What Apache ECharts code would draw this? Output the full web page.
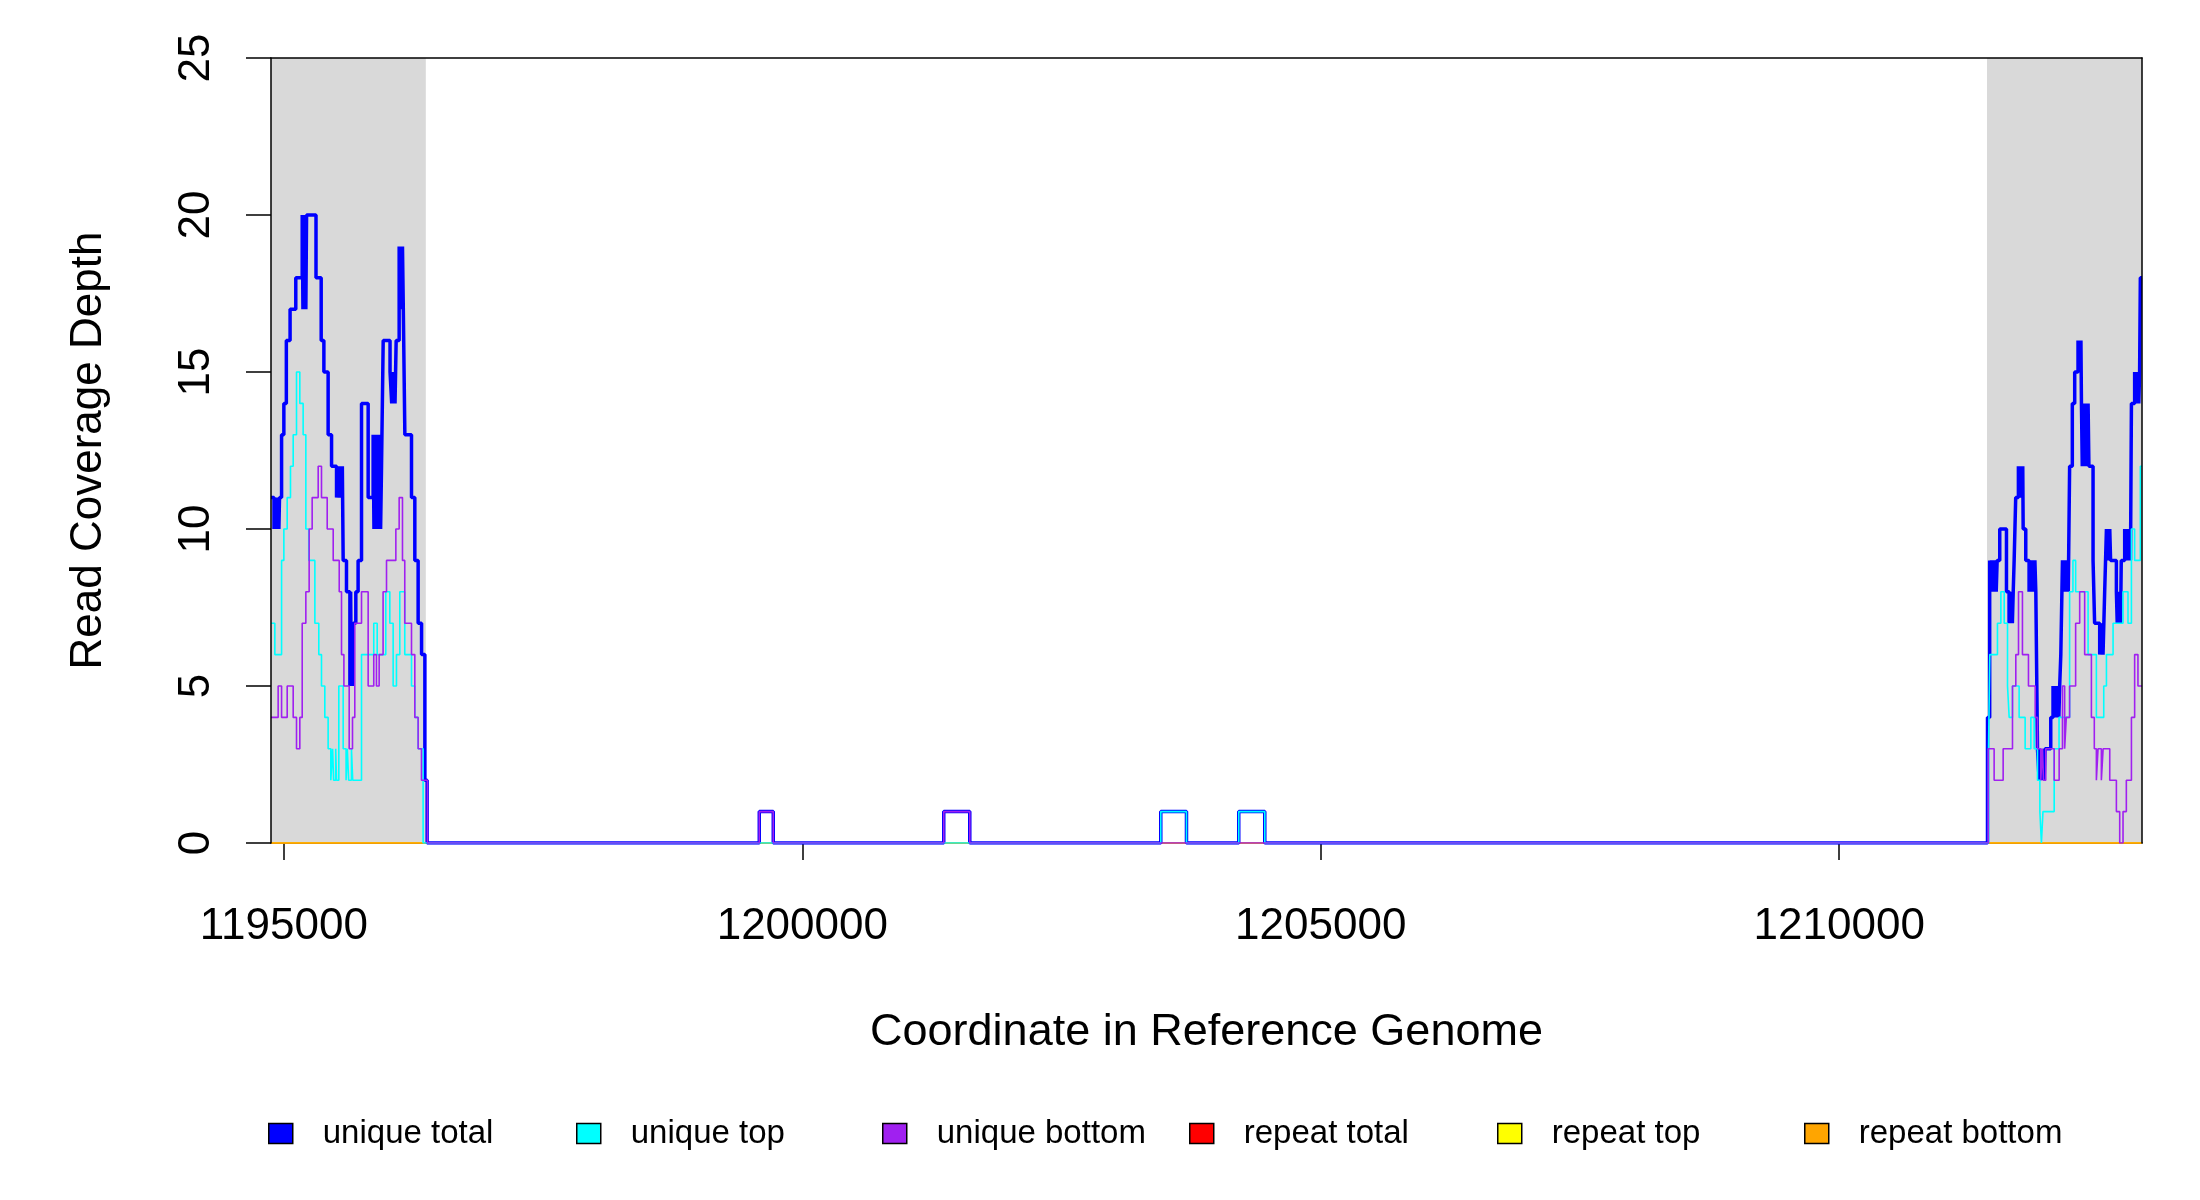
<!DOCTYPE html>
<html>
<head>
<meta charset="utf-8">
<title>Read Coverage Depth</title>
<script src="https://cdn.jsdelivr.net/npm/echarts@6/dist/echarts.min.js"></script>
<style>
  html, body { margin: 0; padding: 0; background: #fff; }
  #main { width: 2200px; height: 1200px; }
</style>
</head>
<body>
<div id="main"></div>
<script>
// axis range and ticks
var xRange = [1194876, 1212920];
var xTicks = [1195000, 1200000, 1205000, 1210000];
var yTicks = [0, 5, 10, 15, 20, 25];

// flanking regions drawn in grey
var shadedRegions = [[1194876, 1196369], [1211425, 1212920]];

var seriesNames = ['unique total', 'unique top', 'unique bottom', 'repeat total', 'repeat top', 'repeat bottom'];
var seriesColors = ['#0000FF', '#00FFFF', '#A020F0', '#FF0000', '#FFFF00', '#FFA500'];

// coverage steps: [start position, depth], depth holds until the next position
var uniqueTotal = [
  [1194876, 11], [1194905, 10], [1194912, 11], [1194920, 10], [1194928, 11], [1194936, 10], [1194944, 11], [1194952, 10], [1194958, 11],
  [1194978, 13], [1195000, 14], [1195024, 16], [1195060, 17], [1195115, 18],
  [1195177, 20], [1195184, 17], [1195191, 20], [1195198, 17], [1195205, 20], [1195212, 17], [1195219, 20],
  [1195310, 18], [1195360, 16], [1195386, 15], [1195427, 13], [1195460, 12],
  [1195508, 11], [1195516, 12], [1195524, 11], [1195532, 12], [1195540, 11], [1195548, 12], [1195556, 11], [1195564, 12],
  [1195572, 9], [1195604, 8], [1195637, 5], [1195644, 8], [1195651, 5], [1195658, 7], [1195664, 5], [1195669, 7],
  [1195694, 8], [1195716, 9], [1195749, 14], [1195813, 11],
  [1195861, 13], [1195869, 10], [1195877, 13], [1195885, 10], [1195893, 13], [1195901, 10], [1195909, 13], [1195917, 10], [1195925, 13], [1195933, 10],
  [1195942, 12], [1195958, 16], [1196024, 15], [1196040, 14], [1196048, 15], [1196056, 14], [1196064, 15], [1196072, 14],
  [1196083, 16], [1196112, 19], [1196120, 17], [1196128, 19], [1196136, 17], [1196144, 19], [1196152, 17],
  [1196167, 13], [1196231, 11], [1196263, 9], [1196295, 7], [1196328, 6], [1196360, 2], [1196382, 0],
  [1199585, 1], [1199720, 0], [1201364, 1], [1201615, 0], [1203457, 1], [1203705, 0], [1204209, 1], [1204460, 0],
  [1211430, 4], [1211451, 9], [1211460, 8], [1211469, 9], [1211478, 8], [1211487, 9], [1211496, 8], [1211505, 9], [1211514, 8], [1211523, 9],
  [1211548, 10], [1211613, 8], [1211638, 7], [1211646, 8], [1211654, 7], [1211662, 8], [1211670, 7], [1211678, 8],
  [1211687, 9], [1211702, 11], [1211728, 12], [1211735, 11], [1211742, 12], [1211749, 11], [1211756, 12], [1211763, 11], [1211770, 12],
  [1211774, 10], [1211799, 9], [1211831, 8], [1211839, 9], [1211847, 8], [1211855, 9], [1211863, 8], [1211871, 9], [1211879, 8], [1211887, 9], [1211896, 8],
  [1211912, 3], [1211928, 2], [1211936, 3], [1211944, 2], [1211952, 3], [1211960, 2], [1211968, 3], [1211976, 2], [1211985, 3],
  [1212040, 4], [1212062, 5], [1212070, 4], [1212078, 5], [1212086, 4], [1212094, 5], [1212102, 4], [1212110, 5], [1212118, 4], [1212126, 5],
  [1212137, 6], [1212153, 9], [1212161, 8], [1212169, 9], [1212177, 8], [1212185, 9], [1212193, 8], [1212201, 9], [1212209, 8],
  [1212222, 12], [1212248, 14], [1212271, 15], [1212303, 16], [1212310, 15], [1212317, 16], [1212324, 15], [1212331, 16],
  [1212336, 14], [1212344, 12], [1212352, 14], [1212360, 12], [1212368, 14], [1212376, 12], [1212384, 14], [1212392, 12], [1212400, 14], [1212408, 12],
  [1212448, 9], [1212463, 7], [1212512, 6], [1212520, 7], [1212528, 6], [1212536, 7], [1212544, 6], [1212552, 7], [1212560, 8],
  [1212577, 10], [1212585, 9], [1212593, 10], [1212601, 9], [1212609, 10], [1212617, 9],
  [1212673, 8], [1212681, 7], [1212689, 8], [1212697, 7], [1212705, 8], [1212713, 7], [1212720, 9],
  [1212753, 10], [1212761, 9], [1212769, 10], [1212777, 9], [1212785, 10], [1212793, 9], [1212801, 10], [1212809, 9],
  [1212818, 14], [1212849, 15], [1212857, 14], [1212865, 15], [1212873, 14], [1212881, 15], [1212889, 14], [1212897, 15],
  [1212904, 18], [1212920, 18]
];

var uniqueTop = [
  [1194876, 7], [1194913, 6], [1194978, 9], [1195000, 10], [1195032, 11], [1195064, 12], [1195090, 13], [1195122, 15],
  [1195154, 14], [1195186, 13], [1195212, 10], [1195240, 9], [1195299, 7], [1195337, 6], [1195363, 5], [1195395, 4],
  [1195427, 3], [1195453, 2], [1195470, 3], [1195480, 2], [1195500, 3], [1195508, 2], [1195530, 5], [1195572, 3],
  [1195600, 2], [1195612, 3], [1195625, 2], [1195652, 3], [1195664, 2], [1195749, 6], [1195867, 7], [1195900, 6],
  [1195983, 8], [1196022, 7], [1196054, 5], [1196086, 6], [1196118, 8], [1196166, 6], [1196231, 5], [1196263, 4],
  [1196295, 3], [1196343, 0],
  [1203457, 1], [1203705, 0], [1204209, 1], [1204460, 0],
  [1211440, 3], [1211452, 6], [1211526, 7], [1211559, 8], [1211591, 7], [1211623, 5], [1211639, 4], [1211671, 5],
  [1211735, 4], [1211793, 3], [1211848, 4], [1211880, 3], [1211912, 2], [1211935, 1], [1211950, 0], [1211965, 1],
  [1212073, 3], [1212120, 4], [1212222, 8], [1212254, 9], [1212280, 8], [1212400, 6], [1212480, 4], [1212551, 5],
  [1212577, 6], [1212641, 7], [1212737, 8], [1212785, 7], [1212818, 10], [1212849, 9], [1212904, 12], [1212920, 12]
];

var uniqueBottom = [
  [1194876, 4], [1194945, 5], [1194978, 4], [1195032, 5], [1195090, 4], [1195122, 3], [1195154, 4], [1195177, 7],
  [1195212, 8], [1195244, 10], [1195273, 11], [1195331, 12], [1195363, 11], [1195418, 10], [1195476, 9], [1195534, 8],
  [1195556, 6], [1195579, 5], [1195630, 3], [1195662, 4], [1195684, 7], [1195749, 8], [1195813, 5], [1195867, 6],
  [1195893, 5], [1195919, 6], [1195957, 8], [1195990, 9], [1196080, 10], [1196112, 11], [1196144, 9], [1196166, 7],
  [1196231, 6], [1196263, 4], [1196295, 3], [1196327, 2], [1196385, 0],
  [1199585, 1], [1199720, 0], [1201364, 1], [1201615, 0],
  [1211437, 3], [1211494, 2], [1211581, 3], [1211671, 5], [1211703, 6], [1211729, 8], [1211767, 6], [1211825, 5],
  [1211890, 4], [1211912, 3], [1211944, 2], [1211960, 3], [1211970, 2], [1211992, 3], [1212073, 2], [1212121, 3],
  [1212153, 5], [1212174, 3], [1212190, 4], [1212222, 5], [1212280, 7], [1212319, 8], [1212367, 6], [1212432, 4],
  [1212460, 3], [1212480, 2], [1212496, 3], [1212528, 2], [1212545, 3], [1212609, 2], [1212673, 1], [1212705, 0],
  [1212737, 1], [1212769, 2], [1212818, 4], [1212849, 6], [1212881, 5], [1212920, 5]
];

var repeatTotal = [[1194876, 0], [1212920, 0]];
var repeatTop = [[1194876, 0], [1212920, 0]];
var repeatBottom = [[1194876, 0], [1212920, 0]];

var seriesData = [uniqueTotal, uniqueTop, uniqueBottom, repeatTotal, repeatTop, repeatBottom];

var FONT = 'Liberation Sans, Arial, Helvetica, sans-serif';
var myChart = echarts.init(document.getElementById('main'), null, { renderer: 'canvas' });

function renderShade(params, api) {
  var topLeft = api.coord([api.value(0), yTicks[yTicks.length - 1]]);
  var bottomRight = api.coord([api.value(1), yTicks[0]]);
  return {
    type: 'rect',
    shape: { x: topLeft[0], y: topLeft[1], width: bottomRight[0] - topLeft[0], height: bottomRight[1] - topLeft[1] },
    style: { fill: '#D9D9D9' }
  };
}

// repeat series are drawn first, unique ones on top
var drawOrder = [3, 4, 5, 0, 1, 2];
var series = [{
  type: 'custom',
  name: 'shade',
  renderItem: renderShade,
  data: shadedRegions,
  encode: { x: [0, 1] },
  silent: true,
  z: 1
}];
drawOrder.forEach(function (i) {
  series.push({
    type: 'line',
    name: seriesNames[i],
    data: seriesData[i],
    step: 'end',
    symbol: 'none',
    showSymbol: false,
    sampling: null,
    z: 2,
    itemStyle: { color: seriesColors[i] },
    lineStyle: { color: seriesColors[i], width: i === 0 ? 3.5 : 1.6 }
  });
});

var legendLeft = [268, 576, 882, 1189, 1497, 1804];
var legends = seriesNames.map(function (name, i) {
  return {
    data: [name],
    left: legendLeft[i],
    top: 1117,
    padding: 0,
    icon: 'rect',
    itemWidth: 24,
    itemHeight: 20,
    itemStyle: { borderColor: '#000', borderWidth: 1.5 },
    selectedMode: false,
    textStyle: { fontFamily: FONT, fontSize: 33, color: '#000', padding: [0, 0, 0, 25] }
  };
});

option = {
  animation: false,
  backgroundColor: '#fff',
  grid: { left: 271, right: 58, top: 58, bottom: 357, containLabel: false },
  legend: legends,
  xAxis: [{
    type: 'value',
    min: xRange[0],
    max: xRange[1],
    name: 'Coordinate in Reference Genome',
    nameLocation: 'middle',
    nameGap: 167,
    nameTextStyle: { fontFamily: FONT, fontSize: 45, color: '#000' },
    splitLine: { show: false },
    axisLine: { show: true, onZero: false, lineStyle: { color: '#000', width: 1.5 } },
    axisTick: { show: true, length: 17, customValues: xTicks, lineStyle: { color: '#000', width: 1.5 } },
    axisLabel: {
      customValues: xTicks,
      margin: 62,
      fontFamily: FONT,
      fontSize: 44,
      color: '#000',
      formatter: function (v) { return String(v); }
    }
  }, {
    type: 'value',
    position: 'top',
    min: xRange[0],
    max: xRange[1],
    z: 10,
    splitLine: { show: false },
    axisLine: { show: true, onZero: false, lineStyle: { color: '#000', width: 1.5 } },
    axisTick: { show: false },
    axisLabel: { show: false }
  }],
  yAxis: [{
    type: 'value',
    min: yTicks[0],
    max: yTicks[yTicks.length - 1],
    interval: 5,
    z: 10,
    name: 'Read Coverage Depth',
    nameLocation: 'middle',
    nameGap: 160,
    nameTextStyle: { fontFamily: FONT, fontSize: 44, color: '#000' },
    splitLine: { show: false },
    axisLine: { show: true, onZero: false, lineStyle: { color: '#000', width: 1.5 } },
    axisTick: { show: true, length: 25, lineStyle: { color: '#000', width: 1.5 } },
    axisLabel: { rotate: 90, margin: 52, fontFamily: FONT, fontSize: 44, color: '#000' }
  }, {
    type: 'value',
    position: 'right',
    min: yTicks[0],
    max: yTicks[yTicks.length - 1],
    z: 10,
    splitLine: { show: false },
    axisLine: { show: true, onZero: false, lineStyle: { color: '#000', width: 1.5 } },
    axisTick: { show: false },
    axisLabel: { show: false }
  }],
  series: series
};

myChart.setOption(option);
</script>
</body>
</html>
